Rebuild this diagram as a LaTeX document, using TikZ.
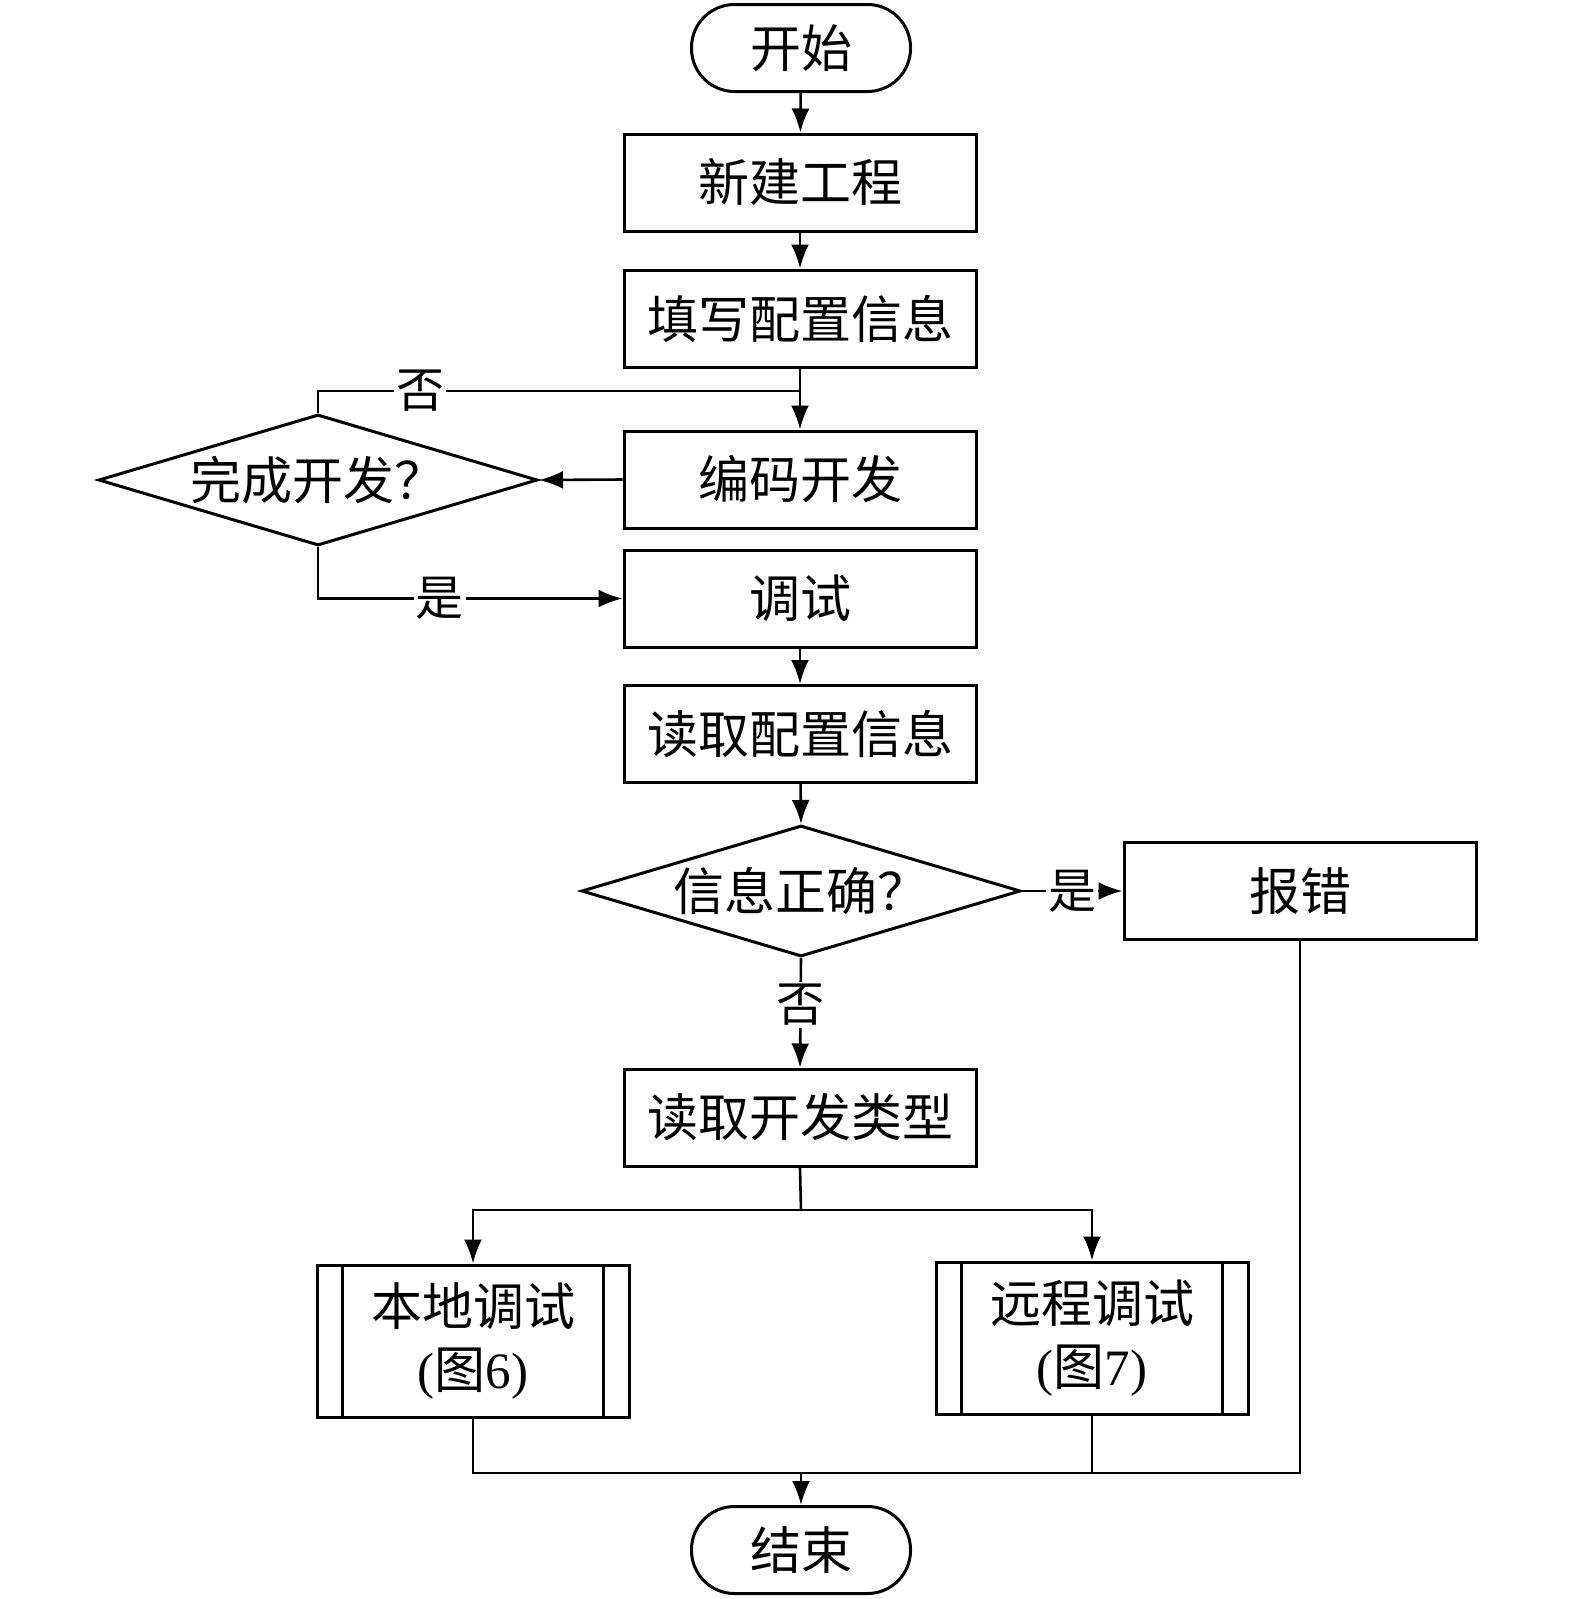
\documentclass[tikz,border=0pt]{standalone}
\usepackage{fontspec}
\setmainfont{Liberation Serif}
\newfontfamily\cjk{Noto Sans CJK SC}
\usetikzlibrary{arrows.meta,shapes.geometric}
\tikzset{
  base/.style={font=\fontsize{51}{63}\selectfont\cjk, align=center, line width=3pt},
  procbox/.style={base, draw, rectangle, minimum width=352pt, minimum height=97pt, inner sep=0pt},
  term/.style={base, draw, rectangle, rounded corners=43pt, minimum width=219pt, minimum height=87pt, inner sep=0pt},
  decision/.style={base, draw, diamond, minimum width=439pt, minimum height=131pt, inner sep=0pt},
  subproc/.style={base, draw, rectangle, minimum width=312pt, minimum height=152pt, inner sep=0pt},
  conn/.style={line width=2.6pt},
  arr/.style={conn, -{Latex[length=24pt,width=18pt]}},
  lbl/.style={font=\fontsize{48}{50}\selectfont\cjk, fill=white, inner sep=2pt}
}
\begin{document}
\begin{tikzpicture}[x=1pt,y=-1pt]
\useasboundingbox (0,0) rectangle (1575,1599);
% nodes
\node[term] (start) at (801,48) {开始};
\node[procbox] (b1) at (800,182.5) {新建工程};
\node[procbox] (b2) at (800,318.5) {填写配置信息};
\node[procbox] (b3) at (800,479.5) {编码开发};
\node[decision, label={[base]center:完成开发？}] (d1) at (318,480) {};
\node[procbox] (b4) at (800,598.5) {调试};
\node[procbox] (b5) at (800,734) {读取配置信息};
\node[decision, label={[base]center:信息正确？}] (d2) at (801,891) {};
\node[procbox] (err) at (1300,891) {报错};
\node[procbox] (b6) at (800,1117.5) {读取开发类型};
\node[subproc] (p1) at (473,1341) {本地调试\\{\rmfamily(}图{\rmfamily 6)}};
\node[subproc] (p2) at (1092,1338) {远程调试\\{\rmfamily(}图{\rmfamily 7)}};
\node[term] (end) at (801,1550) {结束};
% inner bars of predefined processes
\draw[line width=2.4pt] ([xshift=27pt]p1.north west) -- ([xshift=27pt]p1.south west);
\draw[line width=2.4pt] ([xshift=-27pt]p1.north east) -- ([xshift=-27pt]p1.south east);
\draw[line width=2.4pt] ([xshift=27pt]p2.north west) -- ([xshift=27pt]p2.south west);
\draw[line width=2.4pt] ([xshift=-27pt]p2.north east) -- ([xshift=-27pt]p2.south east);
% coordinates
\coordinate (j1) at (801,391);
\coordinate (split) at (801,1210);
\coordinate (merge) at (801,1473);
% connectors
\draw[arr] (start) -- (b1);
\draw[arr] (b1) -- (b2);
\draw[arr] (b2) -- (b3);
\draw[conn] (d1.north) |- (j1) node[lbl, pos=0.606] {否};
\draw[arr] (b3.west) -- (d1.east);
\draw[arr] (d1.south) |- (b4.west) node[lbl, pos=0.70] {是};
\draw[arr] (b4) -- (b5);
\draw[arr] (b5) -- (d2.north);
\draw[arr] (d2.east) -- (err.west) node[lbl, midway] {是};
\draw[arr] (d2.south) -- (b6.north) node[lbl, pos=0.43] {否};
\draw[conn] (b6.south) -- (split);
\draw[arr] (split) -| (p1.north);
\draw[arr] (split) -| (p2.north);
\draw[conn] (p1.south) |- (merge);
\draw[conn] (p2.south) |- (merge);
\draw[conn] (err.south) |- (merge);
\draw[arr] (merge) -- (end.north);
\end{tikzpicture}
\end{document}
